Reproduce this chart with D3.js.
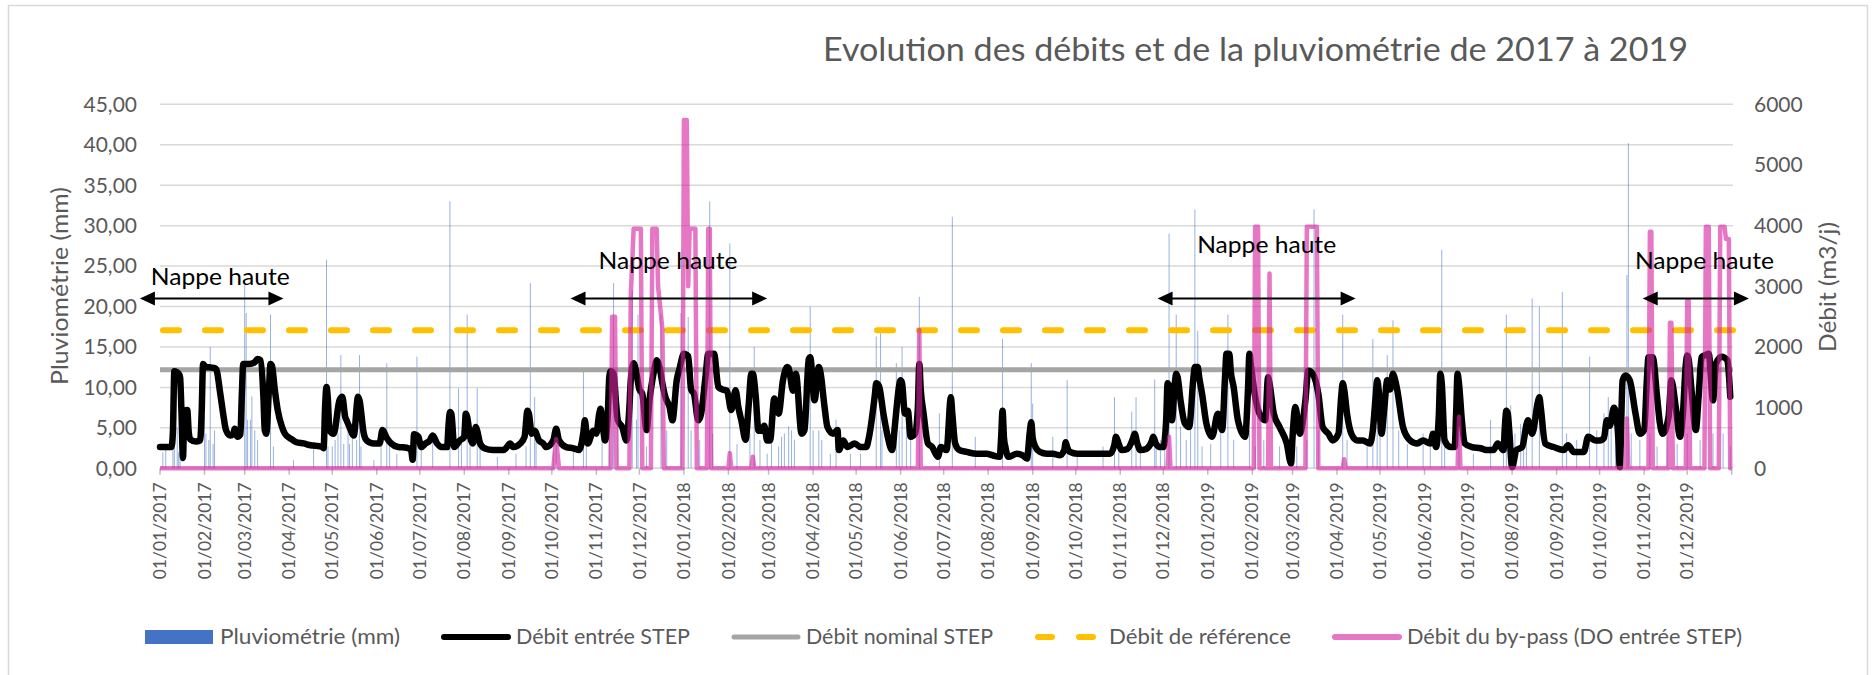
<!DOCTYPE html>
<html lang="fr">
<head>
<meta charset="utf-8">
<title>Evolution des débits et de la pluviométrie</title>
<script src="https://cdn.jsdelivr.net/npm/d3@7/dist/d3.min.js"></script>
<style>
  html, body { margin: 0; padding: 0; background: #fff; }
  svg { display: block; font-family: Lato, "Open Sans", sans-serif; }
</style>
</head>
<body>
<svg id="chart" width="1875" height="675"></svg>
<script>
// ---- Data -------------------------------------------------------------
// Every series is keyed by day number, day 0 = 01/01/2017.
const titleText = "Evolution des débits et de la pluviométrie de 2017 à 2019";
const rainAxisTitle = "Pluviométrie (mm)";
const flowAxisTitle = "Débit (m3/j)";
const rainTicks = [0, 5, 10, 15, 20, 25, 30, 35, 40, 45];
const flowTicks = [0, 1000, 2000, 3000, 4000, 5000, 6000];
const nominalFlow = 1625;     // Débit nominal STEP (m3/j)
const referenceFlow = 2275;   // Débit de référence (m3/j)

// Pluviométrie journalière (mm)
const rainfall = [
  [2,2],[4,2.7],[9,3],[10,4.3],[12,5],[13,2],[14,1.8],[31,6.4],[32,4.3],[34,3.5],[35,15],[37,3],[38,4.7],
  [59,22.7],[60,19.2],[61,6],[63,6],[64,8.9],[66,4.7],[68,3.5],[77,19],[79,2.7],[93,1],[107,3],[116,25.8],
  [117,2.7],[120,2.7],[122,3.5],[124,4.3],[126,14],[128,3],[131,5.2],[132,3],[134,4.7],[137,3.5],[139,14],
  [140,2.7],[149,1],[154,4.3],[158,13],[160,3.5],[165,1.8],[179,13.8],[182,2.7],[190,4.3],[202,33],[208,9.9],
  [210,4.7],[214,19],[216,3.5],[221,9.9],[223,2.7],[235,1.4],[248,1.8],[255,2.7],[258,22.9],[261,8.8],[262,4.3],
  [274,2.2],[276,3],[288,2.7],[295,12],[297,3.5],[308,3.5],[313,6.8],[316,22.9],[319,5.2],[329,22],[332,6],
  [333,19],[339,2.7],[349,19],[353,4.7],[363,19.2],[368,18.7],[370,4.7],[376,3.5],[383,33],[385,4.3],[397,27.8],
  [402,3],[411,4.3],[414,15],[418,3.5],[423,1.8],[426,3.5],[431,2.7],[433,3.9],[435,4.3],[438,5.2],[440,4.7],
  [442,3.5],[453,20],[455,4.7],[459,4.7],[461,3.5],[467,1.8],[471,6],[481,1.8],[488,1.8],[499,16.3],[502,16.7],
  [503,4.7],[513,13],[515,4.7],[517,15],[520,5.2],[523,4.3],[529,21.2],[543,6.8],[552,31.1],[568,3.9],[587,16],
  [607,13],[608,8],[622,3.9],[632,10.9],[639,1.8],[657,2.7],[665,8.8],[668,3.5],[677,7],[680,8.8],[683,3],
  [693,11],[694,2.7],[697,3.5],[700,4.7],[703,29],[708,19],[711,5.2],[715,3.5],[718,4.7],[721,32],[723,17],
  [726,2.7],[732,3],[739,6.8],[744,19],[748,3.5],[759,4.7],[763,2.7],[769,3.5],[780,2.7],[792,2.7],[799,3.5],
  [804,32],[807,4.7],[824,19],[827,3.5],[841,2.7],[845,16],[848,5.2],[850,6.8],[855,14],[859,18.3],[863,4.7],
  [869,3],[880,4.3],[885,4.7],[893,27],[895,3],[905,4.3],[915,1.8],[927,6],[936,4.3],[938,19],[941,7.8],
  [944,4.3],[948,5.5],[950,3.5],[952,4.3],[956,21],[961,20],[977,21.8],[980,4.3],[987,3.5],[996,13.8],
  [1001,4.7],[1006,6.8],[1009,8.8],[1011,6],[1014,6.8],[1017,5.2],[1022,23.9],[1023,40.2],[1025,4.3],
  [1031,3.5],[1038,4.3],[1043,2.7],[1050,3.9],[1057,3],[1064,4.3],[1073,3.5],[1082,4.3],[1089,4.3],[1094,2.7]
];

// Débit entrée STEP (m3/j)
const inflow = [
  [0,350],[8,350],[9,600],[10,1600],[13,1560],[14,1500],[15,900],[16,170],[17,950],[19,960],[20,600],[21,480],
  [25,440],[28,460],[29,900],[30,1720],[32,1670],[36,1660],[39,1640],[42,1230],[44,900],[46,630],[49,540],
  [51,560],[52,650],[54,520],[56,560],[57,1200],[58,1720],[62,1720],[66,1750],[68,1800],[70,1780],[72,1200],
  [73,630],[74,570],[76,1350],[77,1720],[78,1690],[80,1290],[82,960],[85,680],[87,570],[91,490],[95,430],
  [100,410],[105,380],[109,370],[113,350],[114,330],[115,1000],[116,1340],[117,1120],[118,630],[121,570],
  [125,1120],[127,1180],[129,850],[130,790],[132,680],[135,540],[138,1180],[139,1120],[142,570],[144,460],
  [149,410],[153,410],[155,630],[158,500],[161,410],[166,350],[172,340],[175,300],[176,140],[177,560],[180,520],
  [182,350],[185,410],[188,460],[190,540],[193,410],[196,350],[200,350],[201,700],[202,930],[203,900],[205,350],
  [209,460],[212,520],[213,900],[214,850],[216,520],[218,410],[220,680],[221,620],[223,410],[226,330],[232,300],
  [239,300],[241,330],[244,410],[246,350],[251,410],[254,520],[256,950],[257,900],[259,570],[261,620],[264,460],
  [267,410],[269,350],[274,460],[276,650],[278,460],[283,350],[288,330],[292,300],[295,600],[296,790],[297,600],
  [298,410],[302,620],[304,570],[306,900],[307,980],[309,600],[310,460],[312,900],[313,1500],[314,1600],
  [316,1560],[318,1000],[319,790],[322,680],[325,460],[327,1000],[328,1450],[330,1730],[332,1560],[334,1300],
  [336,1230],[339,630],[341,1120],[343,1450],[345,1700],[346,1780],[348,1670],[350,1400],[352,1180],[355,1010],
  [357,790],[360,1450],[362,1650],[365,1890],[368,1850],[370,1300],[372,1230],[375,790],[377,900],[380,1500],
  [382,1890],[386,1890],[389,1340],[392,1300],[395,1280],[398,960],[401,1285],[403,1000],[405,790],[408,470],
  [410,1000],[412,1560],[413,1560],[415,1200],[417,620],[419,620],[421,700],[423,460],[425,460],[428,1150],
  [431,900],[434,1450],[437,1670],[438,1650],[441,1280],[443,1560],[447,570],[449,630],[452,1800],[453,1830],
  [456,1120],[459,1670],[460,1600],[463,1010],[465,680],[469,570],[472,630],[473,300],[476,460],[479,350],
  [484,410],[488,350],[492,350],[494,520],[498,1200],[499,1400],[501,1350],[504,900],[507,520],[510,300],
  [512,700],[513,950],[516,1450],[517,1400],[519,900],[521,950],[523,520],[526,570],[528,1000],[529,1720],
  [530,1300],[532,900],[535,410],[538,350],[542,190],[544,350],[548,300],[551,1170],[552,900],[554,410],
  [557,300],[562,270],[569,240],[576,240],[580,215],[585,190],[586,500],[587,950],[588,500],[589,350],[591,190],
  [597,240],[601,215],[604,160],[606,600],[607,760],[608,500],[610,350],[613,270],[618,240],[622,240],[627,215],
  [630,300],[631,430],[632,350],[634,270],[639,240],[650,240],[662,240],[665,400],[666,520],[668,400],[670,300],
  [674,320],[678,500],[679,570],[681,400],[683,300],[687,320],[691,450],[692,520],[694,400],[697,350],[699,350],
  [701,800],[702,1400],[703,1350],[705,790],[707,1400],[708,1560],[709,1500],[711,1120],[714,740],[717,680],
  [720,1500],[721,1670],[723,1670],[724,1500],[726,1230],[729,740],[733,520],[737,900],[740,630],[742,1500],
  [743,1890],[745,1890],[746,1600],[748,1340],[751,790],[756,520],[758,1300],[759,1890],[760,1700],[763,1180],
  [766,900],[770,790],[772,1500],[773,1400],[776,900],[780,680],[785,410],[788,80],[789,500],[791,1010],
  [794,570],[798,1120],[800,1610],[803,1560],[807,1230],[810,680],[814,570],[817,460],[821,570],[823,1200],
  [824,1400],[825,1300],[827,900],[830,570],[834,460],[838,460],[843,410],[845,630],[847,1200],[848,1450],
  [849,1300],[851,570],[853,1000],[855,1450],[857,1300],[859,1560],[860,1500],[862,1290],[866,680],[871,460],
  [876,410],[880,460],[885,410],[887,570],[889,350],[891,900],[892,1560],[893,1400],[895,460],[899,350],
  [902,350],[903,900],[904,1560],[905,1400],[907,790],[909,410],[914,350],[920,330],[924,300],[929,300],
  [932,410],[936,300],[937,700],[938,950],[939,900],[940,630],[942,20],[945,300],[949,350],[953,790],[956,570],
  [960,1100],[961,1170],[962,1000],[965,410],[971,350],[978,300],[981,380],[985,270],[992,270],[995,520],
  [1000,460],[1003,460],[1006,500],[1008,790],[1010,700],[1013,1000],[1015,800],[1016,500],[1017,20],
  [1019,1450],[1021,1530],[1024,1450],[1028,900],[1031,570],[1034,630],[1036,1500],[1037,1830],[1040,1830],
  [1043,1180],[1045,740],[1047,570],[1051,850],[1053,1450],[1056,1010],[1059,520],[1061,900],[1063,1700],
  [1064,1860],[1065,1800],[1067,1290],[1070,630],[1072,1200],[1074,1830],[1076,1860],[1079,1890],[1082,1120],
  [1084,1725],[1088,1840],[1092,1780],[1093,1560],[1094,1180]
];

// Débit du by-pass (DO entrée STEP), m3/j
const bypass = [
  [0,0],[274,0],[276,480],[278,0],[314,0],[315,2500],[317,2500],[318,0],[327,0],[328,2850],[330,3950],
  [335,3950],[336,0],[342,0],[343,3950],[346,3950],[347,3000],[350,2300],[351,0],[364,0],[365,5740],
  [367,5740],[368,3000],[369,3950],[373,3950],[374,0],[381,0],[382,3950],[383,3950],[384,0],[396,0],[397,250],
  [398,0],[412,0],[413,190],[414,0],[528,0],[529,2280],[530,0],[702,0],[703,520],[704,0],[762,0],[763,3980],
  [765,3980],[766,0],[772,0],[773,3210],[774,0],[798,0],[799,3980],[806,3980],[807,0],[824,0],[825,150],
  [826,0],[904,0],[905,850],[906,0],[1021,0],[1022,820],[1023,0],[1037,0],[1038,3900],[1039,3900],[1040,0],
  [1051,0],[1052,2400],[1053,2400],[1054,0],[1063,0],[1064,2770],[1065,2770],[1066,0],[1076,0],[1077,3980],
  [1079,3980],[1080,0],[1086,0],[1087,3980],[1090,3980],[1091,3780],[1093,3780],[1094,0],[1095,0]
];

// Périodes de nappe haute (flèches annotées)
const highWaterFrom  = ["2016-12-18", "2017-10-14", "2018-11-27", "2019-10-31"];
const highWaterTo    = ["2017-03-28", "2018-02-28", "2019-04-14", "2020-01-13"];
const highWaterLabel = ["2017-02-12", "2017-12-21", "2019-02-11", "2019-12-13"];
const highWaterLabelMm = [22.66, 24.6, 26.58, 24.6];
const highWaterArrowMm = 21;

const legendLabels = ["Pluviométrie (mm)", "Débit entrée STEP", "Débit nominal STEP",
                      "Débit de référence", "Débit du by-pass (DO entrée STEP)"];

// ---- Layout -----------------------------------------------------------
const svg = d3.select("#chart");
const plotLeft = 160, plotRight = 1731.7, gridRight = 1733, plotTop = 104.3, plotBottom = 468.3;
const axisGrey = "#595959";
const pink = "#D6249F";

const seriesStart = new Date(Date.UTC(2017, 0, 1));
const seriesEnd = new Date(Date.UTC(2020, 0, 1));
const fromDay = d => d3.utcDay.offset(seriesStart, d);
const parseDate = d3.utcParse("%Y-%m-%d");

const x = d3.scaleUtc().domain([seriesStart, seriesEnd]).range([plotLeft, plotRight]);
const yRain = d3.scaleLinear().domain([0, 45]).range([plotBottom, plotTop]);
const yFlow = d3.scaleLinear().domain([0, 6000]).range([plotBottom, plotTop]);

// Chart frame
svg.append("rect").attr("x", 8.5).attr("y", 5.5).attr("width", 1859).attr("height", 700)
  .attr("fill", "none").attr("stroke", "#D9D9D9").attr("stroke-width", 1.5);

// Title
svg.append("text").attr("x", 823).attr("y", 61)
  .attr("font-size", 32).attr("fill", axisGrey)
  .attr("textLength", 865).attr("lengthAdjust", "spacingAndGlyphs")
  .text(titleText);

// Horizontal gridlines
svg.append("g").selectAll("line").data(rainTicks).join("line")
  .attr("x1", plotLeft).attr("x2", gridRight)
  .attr("y1", d => yRain(d)).attr("y2", d => yRain(d))
  .attr("stroke", "#D9D9D9").attr("stroke-width", 1.5);

// Left axis labels
const fmtMm = d => d3.format(".2f")(d).replace(".", ",");
svg.append("g").selectAll("text").data(rainTicks).join("text")
  .attr("x", 137).attr("y", d => yRain(d)).attr("dy", "0.35em")
  .attr("text-anchor", "end").attr("font-size", 21).attr("fill", axisGrey)
  .text(fmtMm);

// Right axis labels
svg.append("g").selectAll("text").data(flowTicks).join("text")
  .attr("x", 1754).attr("y", d => yFlow(d)).attr("dy", "0.35em")
  .attr("text-anchor", "start").attr("font-size", 21).attr("fill", axisGrey)
  .text(d => d3.format("d")(d));

// Axis titles
svg.append("text").attr("transform", "translate(60,286) rotate(-90)")
  .attr("text-anchor", "middle").attr("dy", "0.35em")
  .attr("font-size", 23).attr("fill", axisGrey)
  .attr("textLength", 198).attr("lengthAdjust", "spacingAndGlyphs")
  .text(rainAxisTitle);
svg.append("text").attr("transform", "translate(1828,287) rotate(-90)")
  .attr("text-anchor", "middle").attr("dy", "0.35em")
  .attr("font-size", 23).attr("fill", axisGrey)
  .attr("textLength", 130).attr("lengthAdjust", "spacingAndGlyphs")
  .text(flowAxisTitle);

// Time axis: month ticks and rotated labels
const months = d3.utcMonth.range(seriesStart, d3.utcDay.offset(seriesEnd, 1));
svg.append("line").attr("x1", plotLeft).attr("x2", gridRight).attr("y1", plotBottom).attr("y2", plotBottom)
  .attr("stroke", "#D9D9D9").attr("stroke-width", 1.5);
svg.append("g").selectAll("line").data(months).join("line")
  .attr("x1", d => x(d)).attr("x2", d => x(d)).attr("y1", plotBottom).attr("y2", plotBottom + 6.5)
  .attr("stroke", "#BFBFBF").attr("stroke-width", 1.5);
const fmtDate = d3.utcFormat("%d/%m/%Y");
svg.append("g").selectAll("text").data(months.filter(d => d < seriesEnd)).join("text")
  .attr("transform", d => `translate(${x(d)},${plotBottom + 14}) rotate(-90)`)
  .attr("text-anchor", "end").attr("dy", "0.35em")
  .attr("font-size", 17.5).attr("fill", axisGrey)
  .text(fmtDate);

// Rainfall bars (primary axis)
svg.append("g").selectAll("rect").data(rainfall).join("rect")
  .attr("x", d => x(fromDay(d[0])) - 0.5).attr("width", 1)
  .attr("y", d => yRain(d[1])).attr("height", d => plotBottom - yRain(d[1]))
  .attr("fill", "#4472C4").attr("fill-opacity", 0.55);

// Reference flows (secondary axis)
svg.append("line").attr("x1", plotLeft).attr("x2", gridRight)
  .attr("y1", yFlow(nominalFlow)).attr("y2", yFlow(nominalFlow))
  .attr("stroke", "#A5A5A5").attr("stroke-width", 5);
svg.append("line").attr("x1", plotLeft + 3).attr("x2", gridRight)
  .attr("y1", yFlow(referenceFlow)).attr("y2", yFlow(referenceFlow))
  .attr("stroke", "#FFC000").attr("stroke-width", 6)
  .attr("stroke-dasharray", "16 26").attr("stroke-linecap", "round");

// Inflow line
const flowLine = d3.line()
  .x(d => x(fromDay(d[0]))).y(d => yFlow(d[1]))
  .curve(d3.curveMonotoneX);
svg.append("path").datum(inflow).attr("d", flowLine)
  .attr("fill", "none").attr("stroke", "#000").attr("stroke-width", 6.5)
  .attr("stroke-linejoin", "round").attr("stroke-linecap", "round");

// By-pass line (translucent, drawn on top)
const bypassLine = d3.line()
  .x(d => x(fromDay(d[0]))).y(d => yFlow(d[1]));
svg.append("path").datum(bypass).attr("d", bypassLine)
  .attr("fill", "none").attr("stroke", pink).attr("stroke-opacity", 0.62)
  .attr("stroke-width", 4.5).attr("stroke-linejoin", "round");

// High water periods: double arrows with labels
const arrows = svg.append("g");
highWaterFrom.forEach((f, i) => {
  const x0 = x(parseDate(f)), x1 = x(parseDate(highWaterTo[i]));
  const ya = yRain(highWaterArrowMm);
  const head = 15, half = 7;
  arrows.append("line").attr("x1", x0 + head - 1).attr("x2", x1 - head + 1)
    .attr("y1", ya).attr("y2", ya).attr("stroke", "#000").attr("stroke-width", 2);
  arrows.append("path")
    .attr("d", `M${x0},${ya}L${x0 + head},${ya - half}L${x0 + head},${ya + half}Z`
             + `M${x1},${ya}L${x1 - head},${ya - half}L${x1 - head},${ya + half}Z`)
    .attr("fill", "#000");
  arrows.append("text").attr("x", x(parseDate(highWaterLabel[i])))
    .attr("y", yRain(highWaterLabelMm[i]))
    .attr("text-anchor", "middle").attr("font-size", 23).attr("fill", "#000")
    .attr("textLength", 139).attr("lengthAdjust", "spacingAndGlyphs")
    .text("Nappe haute");
});

// Legend
const legendWidths = [180, 174, 187, 182, 335];
const legendY = 637;
let lx = 145;
const legend = svg.append("g");
legendLabels.forEach((label, i) => {
  const g = legend.append("g");
  if (i === 0) {
    g.append("rect").attr("x", lx).attr("y", legendY - 7).attr("width", 68).attr("height", 14)
      .attr("fill", "#4472C4");
  } else if (i === 3) {
    g.append("line").attr("x1", lx + 4).attr("x2", lx + 66).attr("y1", legendY).attr("y2", legendY)
      .attr("stroke", "#FFC000").attr("stroke-width", 6)
      .attr("stroke-dasharray", "14 27").attr("stroke-linecap", "round");
  } else {
    const style = [null, ["#000", 6, 1], ["#A5A5A5", 5, 1], null, [pink, 6, 0.62]][i];
    g.append("line").attr("x1", lx + 3).attr("x2", lx + 67).attr("y1", legendY).attr("y2", legendY)
      .attr("stroke", style[0]).attr("stroke-width", style[1]).attr("stroke-opacity", style[2])
      .attr("stroke-linecap", "round");
  }
  g.append("text").attr("x", lx + 75).attr("y", legendY).attr("dy", "0.35em")
    .attr("font-size", 21).attr("fill", axisGrey)
    .attr("textLength", legendWidths[i]).attr("lengthAdjust", "spacingAndGlyphs")
    .text(label);
  lx += 75 + legendWidths[i] + 41;
});
</script>
</body>
</html>
